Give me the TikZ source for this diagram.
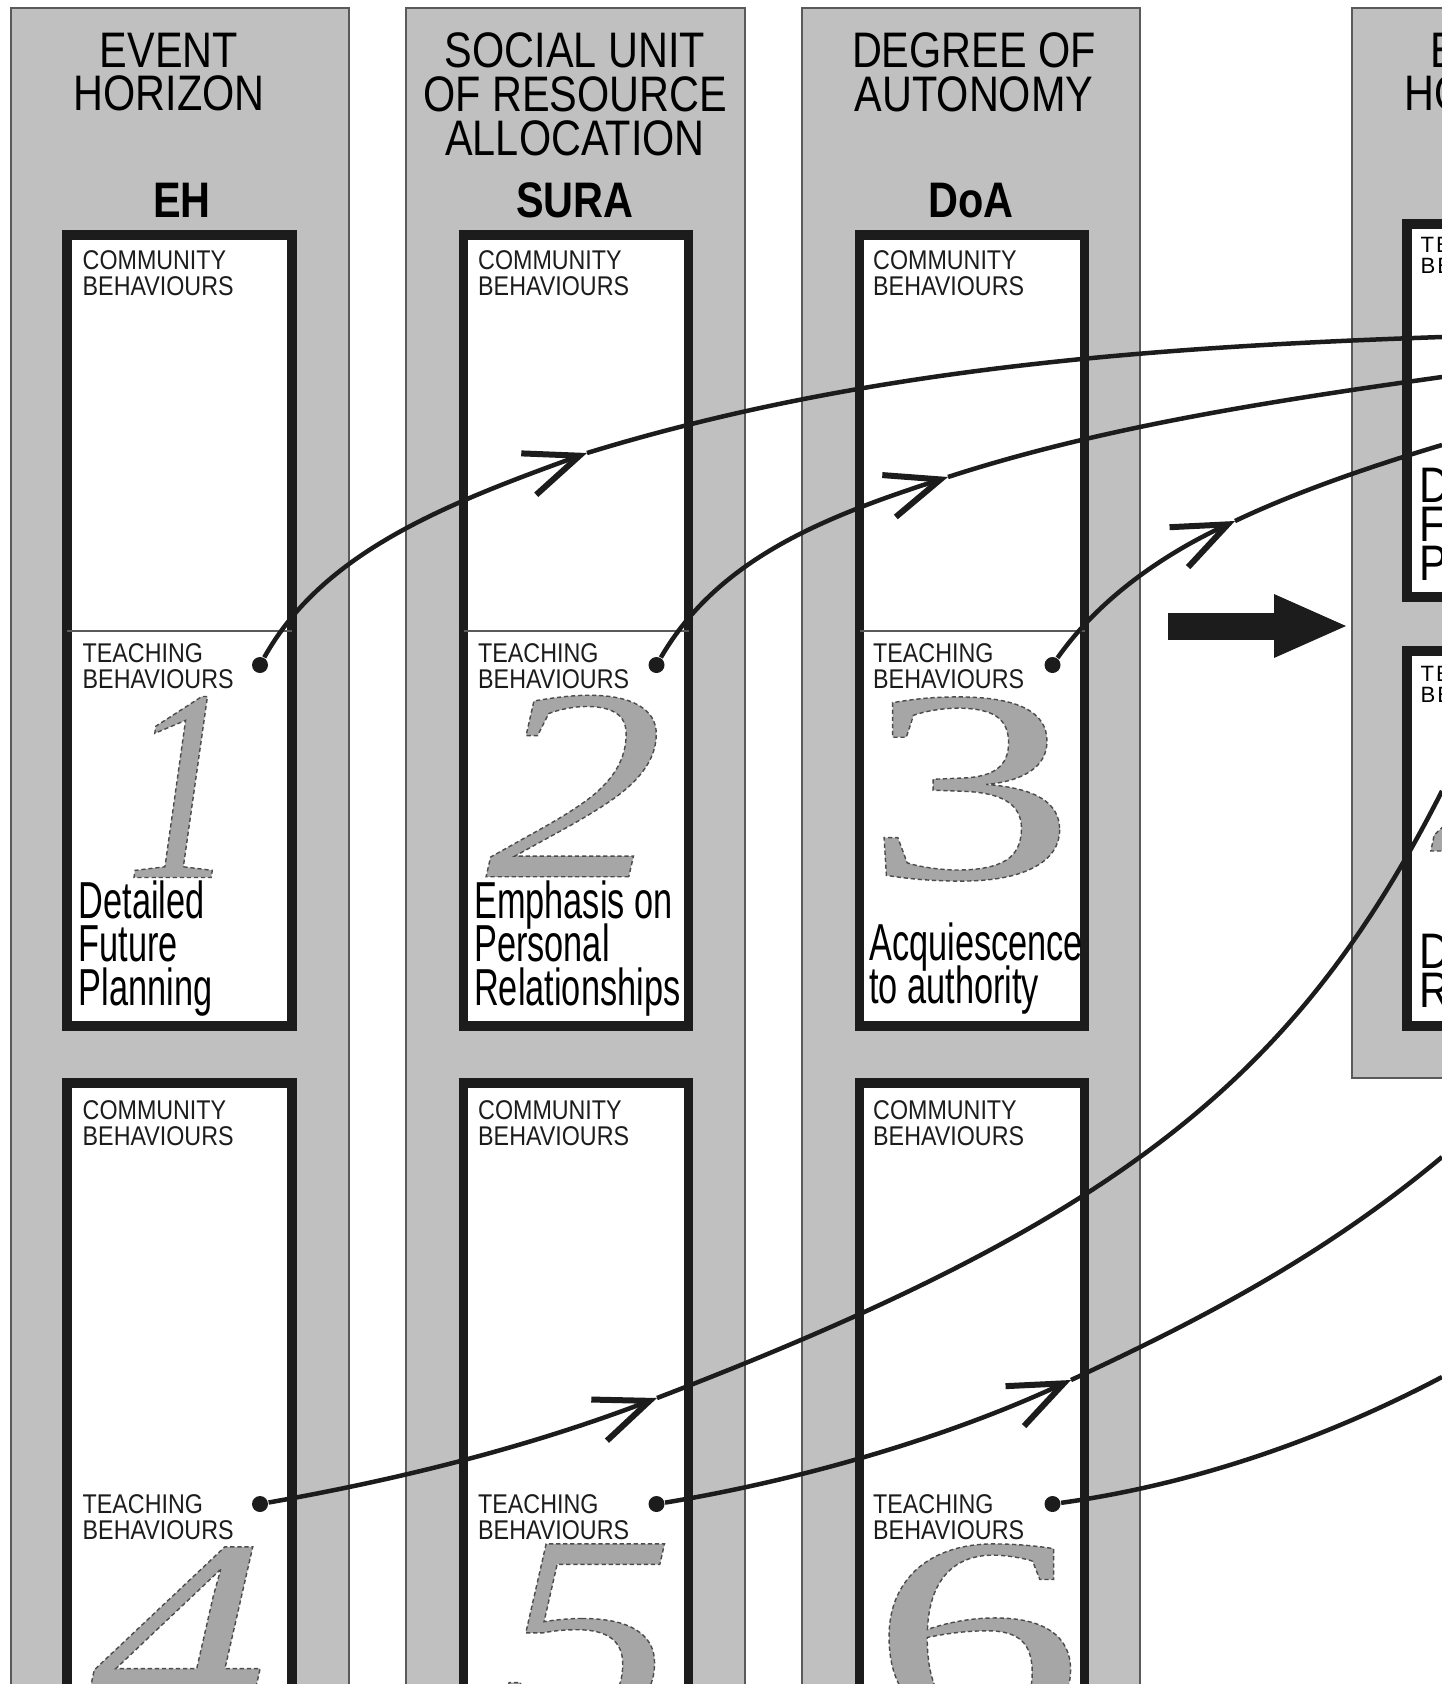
\documentclass[tikz,border=0pt]{standalone}
\usepackage{fontspec}
\setmainfont{Liberation Sans}
\newfontfamily\hdfont[FakeStretch=0.83]{Liberation Sans}
\newfontfamily\bhvfont[FakeStretch=0.86]{Liberation Sans}
\newfontfamily\descfont[FakeStretch=0.66]{Liberation Sans}
\newfontfamily\sidefont[FakeStretch=0.85]{Liberation Sans}
\newfontfamily\sidetagfont[LetterSpace=8]{Liberation Sans}
\newfontfamily\digfont[FakeStretch=1.3]{Liberation Serif}
\newfontfamily\digwidefont[FakeStretch=1.55]{Liberation Serif}
\newfontfamily\digslimfont[FakeStretch=0.8]{Liberation Serif}
\usetikzlibrary{arrows.meta}
\definecolor{panelgrey}{HTML}{C0C0C0}
\definecolor{edgegrey}{HTML}{5A5A5A}
\definecolor{inkblack}{HTML}{1C1C1C}
\definecolor{digitgrey}{HTML}{A6A6A6}
\setlength{\lineskiplimit}{-20pt}
% grey numeral with a dashed outline
\newcommand\outlined[1]{\special{pdf:literal direct 2 Tr 0.4 w [1.2 0.8] 0 d 0.3 G}#1\special{pdf:literal direct 0 Tr [] 0 d}}
\begin{document}
\begin{tikzpicture}[
    x=0.1mm, y=-0.1mm,
    colpanel/.style={fill=panelgrey, draw=edgegrey, line width=0.15mm},
    bhvbox/.style={rectangle, draw=inkblack, fill=white, line width=0.95mm, minimum width=22.5mm, inner sep=0pt, outer sep=0pt},
    headtext/.style={font=\hdfont\fontsize{14.2}{12.5}\selectfont, align=center, anchor=north, inner sep=0pt},
    abbrevtext/.style={font=\hdfont\bfseries\fontsize{14.2}{14}\selectfont, anchor=base, inner sep=0pt},
    bhvtext/.style={font=\bhvfont\fontsize{7.7}{7.4}\selectfont, align=left, anchor=north west, inner sep=0pt, text=inkblack},
    desctext/.style={font=\descfont\fontsize{14.8}{12.4}\selectfont, align=left, anchor=north west, inner sep=0pt},
    sidetext/.style={font=\sidefont\fontsize{14.2}{11.1}\selectfont, align=left, anchor=north west, inner sep=0pt},
    sidetag/.style={font=\sidetagfont\fontsize{6.3}{6}\selectfont, align=left, anchor=north west, inner sep=0pt},
    numtext/.style={font=\fontsize{78}{78}\selectfont, text=digitgrey, inner sep=0pt},
    tipdot/.style={circle, fill=inkblack, inner sep=0pt, minimum size=1.6mm},
    divider/.style={draw=edgegrey, line width=0.2mm},
    link/.style={draw=inkblack, line width=0.45mm},
    barbed/.style={-{Straight Barb[length=5.4mm, width=4.4mm, line width=0.6mm]}},
    bigarrow/.style={draw=inkblack, line width=2.7mm, -{Triangle[length=7.2mm, width=6.4mm, line width=0pt]}}
]
    \useasboundingbox (0,0) rectangle (1442,1684);
    \clip (0,0) rectangle (1442,1684);

    % Grey columns
    \draw[colpanel] (11,8) rectangle (349,1750);
    \draw[colpanel] (406,8) rectangle (745,1750);
    \draw[colpanel] (802,8) rectangle (1140,1750);
    \draw[colpanel] (1352,8) rectangle (1700,1078);

    % Column headings
    \node[headtext] (ehtitle) at (169,32) {EVENT\\HORIZON};
    \node[headtext] (suratitle) at (575,32) {SOCIAL UNIT\\OF RESOURCE\\ALLOCATION};
    \node[headtext] (doatitle) at (974,32) {DEGREE OF\\AUTONOMY};
    \node[headtext] (ehtitlenext) at (1500,32) {EVENT\\HORIZON};
    \node[abbrevtext] (eh) at (182,217) {EH};
    \node[abbrevtext] (sura) at (575,217) {SURA};
    \node[abbrevtext] (doa) at (971,217) {DoA};

    % Upper boxes
    \node[bhvbox, minimum height=79.1mm] (box1) at (179.5,630.5) {};
    \node[bhvbox, minimum height=79.1mm] (box2) at (576,630.5) {};
    \node[bhvbox, minimum height=79.1mm] (box3) at (972,630.5) {};
    \draw[divider] (box1.west |- 0,631) -- (box1.east |- 0,631);
    \draw[divider] (box2.west |- 0,631) -- (box2.east |- 0,631);
    \draw[divider] (box3.west |- 0,631) -- (box3.east |- 0,631);

    % Lower boxes
    \node[bhvbox, minimum height=81.7mm] (box4) at (179.5,1491.5) {};
    \node[bhvbox, minimum height=81.7mm] (box5) at (576,1491.5) {};
    \node[bhvbox, minimum height=81.7mm] (box6) at (972,1491.5) {};

    % Boxes of the next column
    \node[bhvbox, minimum height=37.3mm] (box7) at (1519.5,410.5) {};
    \node[bhvbox, minimum height=37.5mm] (box8) at (1519.5,838.5) {};

    % Big numerals
    \node[numtext] (num1) at (181,787) {\digslimfont\itshape\outlined{1}};
    \node[numtext] (num2) at (575,786) {\digfont\itshape\outlined{2}};
    \node[numtext] (num3) at (970,789) {\digwidefont\outlined{3}};
    \node[numtext] (num4) at (179,1637) {\digfont\itshape\outlined{4}};
    \node[numtext] (num5) at (586,1635) {\digfont\itshape\outlined{5}};
    \node[numtext] (num6) at (977,1636) {\digwidefont\outlined{6}};
    \node[numtext] (num4next) at (1519,802) {\digfont\itshape\outlined{4}};

    % Box labels
    \node[bhvtext] (com1) at ([shift={(15,15)}]box1.north west) {COMMUNITY\\BEHAVIOURS};
    \node[bhvtext] (com2) at ([shift={(14,15)}]box2.north west) {COMMUNITY\\BEHAVIOURS};
    \node[bhvtext] (com3) at ([shift={(13,15)}]box3.north west) {COMMUNITY\\BEHAVIOURS};
    \node[bhvtext] (tea1) at ([shift={(15,408)}]box1.north west) {TEACHING\\BEHAVIOURS};
    \node[bhvtext] (tea2) at ([shift={(14,408)}]box2.north west) {TEACHING\\BEHAVIOURS};
    \node[bhvtext] (tea3) at ([shift={(13,408)}]box3.north west) {TEACHING\\BEHAVIOURS};
    \node[bhvtext] (com4) at ([shift={(15,17)}]box4.north west) {COMMUNITY\\BEHAVIOURS};
    \node[bhvtext] (com5) at ([shift={(14,17)}]box5.north west) {COMMUNITY\\BEHAVIOURS};
    \node[bhvtext] (com6) at ([shift={(13,17)}]box6.north west) {COMMUNITY\\BEHAVIOURS};
    \node[bhvtext] (tea4) at ([shift={(15,411)}]box4.north west) {TEACHING\\BEHAVIOURS};
    \node[bhvtext] (tea5) at ([shift={(14,411)}]box5.north west) {TEACHING\\BEHAVIOURS};
    \node[bhvtext] (tea6) at ([shift={(13,411)}]box6.north west) {TEACHING\\BEHAVIOURS};
    \node[sidetag] (tea7) at ([shift={(13,12)}]box7.north west) {TEACHING\\BEHAVIOURS};
    \node[sidetag] (tea8) at ([shift={(13,14)}]box8.north west) {TEACHING\\BEHAVIOURS};

    % Descriptions
    \node[desctext] (desc1) at ([shift={(11,645)}]box1.north west) {Detailed\\Future\\Planning};
    \node[desctext] (desc2) at ([shift={(10,645)}]box2.north west) {Emphasis on\\Personal\\Relationships};
    \node[desctext] (desc3) at ([shift={(9,687)}]box3.north west) {Acquiescence\\to authority};
    \node[sidetext] (desc7) at ([shift={(12,242)}]box7.north west) {Detailed\\Future\\Planning};
    \node[sidetext] (desc8) at ([shift={(12,282)}]box8.north west) {D\\R};

    % Teaching dots
    \node[tipdot] (dot1) at ([shift={(-32,430)}]box1.north east) {};
    \node[tipdot] (dot2) at ([shift={(-32,430)}]box2.north east) {};
    \node[tipdot] (dot3) at ([shift={(-32,430)}]box3.north east) {};
    \node[tipdot] (dot4) at ([shift={(-32,421)}]box4.north east) {};
    \node[tipdot] (dot5) at ([shift={(-32,421)}]box5.north east) {};
    \node[tipdot] (dot6) at ([shift={(-32,421)}]box6.north east) {};

    % Arrow heads and loose ends
    \coordinate (a1) at (587,453);
    \coordinate (a2) at (948,477);
    \coordinate (a3) at (1235,521);
    \coordinate (a4) at (657,1398);
    \coordinate (a5) at (1071,1380);
    \coordinate (e1) at (1442,337);
    \coordinate (e2) at (1442,377);
    \coordinate (e3) at (1442,445);
    \coordinate (e4) at (1442,791);
    \coordinate (e5) at (1442,1157);
    \coordinate (e6) at (1442,1377);

    % Connections
    \draw[link, barbed] (dot1) .. controls (323,552) and (446,504) .. (a1);
    \draw[link] (a1) .. controls (864,368) and (1152,347) .. (e1);
    \draw[link, barbed] (dot2) .. controls (718,559) and (824,517) .. (a2);
    \draw[link] (a2) .. controls (1105,426) and (1279,400) .. (e2);
    \draw[link, barbed] (dot3) .. controls (1099,599) and (1162,555) .. (a3);
    \draw[link] (a3) .. controls (1298,491) and (1375,465) .. (e3);
    \draw[link, barbed] (dot4) .. controls (396,1480) and (526,1448) .. (a4);
    \draw[link] (a4) .. controls (1124,1219) and (1297,1076) .. (e4);
    \draw[link, barbed] (dot5) .. controls (796,1481) and (944,1439) .. (a5);
    \draw[link] (a5) .. controls (1207,1317) and (1327,1253) .. (e5);
    \draw[link] (dot6) .. controls (1204,1483) and (1336,1433) .. (e6);

    % Big arrow
    \coordinate (shaft) at (1168,626);
    \coordinate (pointer) at (1346,626);
    \draw[bigarrow] (shaft) -- (pointer);
\end{tikzpicture}
\end{document}
